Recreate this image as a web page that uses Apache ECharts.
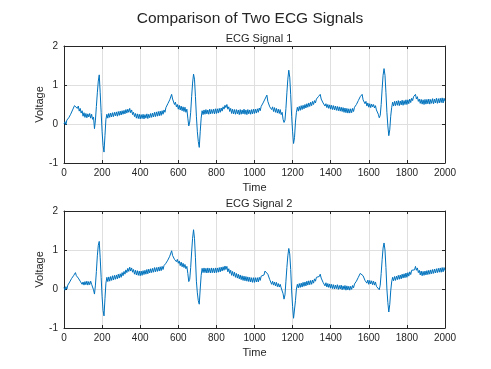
<!DOCTYPE html>
<html>
<head>
<meta charset="utf-8">
<script src="https://cdn.jsdelivr.net/npm/echarts@6/dist/echarts.min.js"></script>
<style>html,body{margin:0;padding:0;background:#fff}#c{width:491px;height:369px}</style>
</head>
<body>
<div id="c"></div>
<script>
// sample index (every 5th sample)
const time = [];
for (let t = 0; t <= 2000; t += 5) time.push(t);

const ecg1 = [
 0.00,0.06,-0.02,0.10,0.05,0.16,0.14,0.25,0.22,0.36,0.34,0.47,0.42,0.52,0.40,0.46,0.33,0.40,0.28,0.34,
 0.20,0.29,0.17,0.27,0.16,0.26,0.18,0.27,0.15,0.25,0.12,0.18,-0.12,0.10,0.45,0.80,1.10,1.26,0.80,0.30,
 -0.20,-0.55,-0.72,-0.30,0.12,0.25,0.15,0.27,0.17,0.28,0.18,0.29,0.19,0.30,0.21,0.31,0.20,0.32,0.22,0.33,
 0.23,0.34,0.25,0.35,0.26,0.37,0.28,0.38,0.30,0.40,0.29,0.36,0.24,0.30,0.19,0.27,0.15,0.26,0.14,0.25,
 0.13,0.24,0.14,0.25,0.13,0.24,0.15,0.26,0.14,0.25,0.16,0.27,0.17,0.28,0.18,0.30,0.19,0.31,0.20,0.32,
 0.21,0.33,0.22,0.34,0.25,0.36,0.30,0.42,0.38,0.52,0.50,0.62,0.60,0.76,0.64,0.62,0.50,0.56,0.44,0.50,
 0.38,0.48,0.36,0.46,0.34,0.44,0.32,0.43,0.30,0.38,0.15,-0.05,0.05,0.30,0.70,1.05,1.28,1.15,0.70,0.20,
 -0.20,-0.45,-0.60,-0.20,0.15,0.34,0.24,0.36,0.25,0.37,0.26,0.36,0.25,0.38,0.26,0.37,0.27,0.38,0.26,0.39,
 0.27,0.39,0.28,0.40,0.30,0.41,0.33,0.44,0.38,0.48,0.42,0.50,0.38,0.44,0.32,0.40,0.27,0.38,0.26,0.37,
 0.25,0.37,0.26,0.36,0.24,0.37,0.25,0.36,0.26,0.38,0.25,0.36,0.24,0.37,0.26,0.36,0.25,0.37,0.26,0.38,
 0.27,0.38,0.28,0.39,0.30,0.41,0.34,0.45,0.44,0.54,0.55,0.64,0.68,0.74,0.58,0.56,0.44,0.48,0.37,0.44,
 0.32,0.42,0.30,0.40,0.28,0.38,0.27,0.37,0.24,0.30,0.12,0.04,0.10,0.40,0.80,1.15,1.38,1.20,0.75,0.20,
 -0.20,-0.50,-0.35,0.05,0.30,0.43,0.33,0.45,0.35,0.47,0.37,0.48,0.39,0.50,0.41,0.52,0.43,0.54,0.45,0.56,
 0.47,0.58,0.50,0.60,0.54,0.64,0.60,0.70,0.66,0.76,0.64,0.68,0.54,0.58,0.46,0.52,0.42,0.50,0.40,0.49,
 0.38,0.48,0.37,0.47,0.36,0.46,0.35,0.45,0.34,0.44,0.33,0.43,0.32,0.42,0.30,0.41,0.29,0.40,0.28,0.39,
 0.28,0.39,0.29,0.40,0.32,0.43,0.38,0.50,0.50,0.60,0.60,0.70,0.68,0.76,0.62,0.64,0.52,0.58,0.46,0.54,
 0.43,0.52,0.42,0.51,0.44,0.50,0.41,0.47,0.36,0.40,0.25,0.16,0.22,0.50,0.90,1.25,1.42,1.25,0.80,0.30,
 -0.05,-0.30,-0.15,0.20,0.42,0.56,0.46,0.58,0.47,0.59,0.48,0.60,0.47,0.59,0.49,0.61,0.48,0.60,0.50,0.62,
 0.50,0.62,0.52,0.64,0.55,0.66,0.60,0.70,0.66,0.76,0.64,0.70,0.58,0.64,0.53,0.63,0.51,0.62,0.50,0.63,
 0.51,0.63,0.52,0.64,0.51,0.63,0.53,0.65,0.52,0.64,0.54,0.66,0.53,0.65,0.54,0.66,0.55,0.67,0.54,0.66,
 0.58
];

const ecg2 = [
 0.04,-0.03,0.06,0.00,0.10,0.08,0.18,0.16,0.27,0.25,0.34,0.32,0.42,0.34,0.38,0.28,0.30,0.20,0.22,0.12,
 0.18,0.10,0.19,0.11,0.20,0.10,0.19,0.11,0.20,0.12,0.15,-0.02,-0.13,0.10,0.45,0.85,1.12,1.22,0.80,0.30,
 -0.20,-0.55,-0.69,-0.25,0.15,0.30,0.19,0.31,0.20,0.32,0.22,0.34,0.23,0.35,0.25,0.36,0.26,0.38,0.28,0.39,
 0.30,0.42,0.34,0.45,0.38,0.49,0.42,0.53,0.45,0.56,0.46,0.54,0.43,0.50,0.38,0.48,0.36,0.47,0.35,0.46,
 0.34,0.46,0.35,0.47,0.37,0.48,0.38,0.50,0.39,0.51,0.41,0.52,0.42,0.53,0.43,0.55,0.44,0.55,0.45,0.56,
 0.46,0.57,0.47,0.58,0.50,0.60,0.55,0.66,0.62,0.74,0.72,0.84,0.82,0.98,0.86,0.88,0.76,0.80,0.70,0.76,
 0.66,0.72,0.60,0.69,0.57,0.66,0.55,0.63,0.52,0.58,0.40,0.19,0.25,0.55,0.95,1.30,1.52,1.30,0.80,0.20,
 -0.10,-0.30,-0.39,0.00,0.35,0.53,0.42,0.54,0.42,0.53,0.41,0.54,0.42,0.53,0.41,0.54,0.42,0.53,0.41,0.54,
 0.42,0.54,0.43,0.55,0.44,0.56,0.46,0.57,0.48,0.59,0.50,0.58,0.44,0.52,0.40,0.48,0.35,0.45,0.33,0.43,
 0.30,0.40,0.28,0.38,0.26,0.36,0.24,0.34,0.22,0.33,0.21,0.32,0.20,0.31,0.19,0.30,0.18,0.29,0.17,0.29,
 0.17,0.29,0.18,0.29,0.18,0.30,0.22,0.33,0.28,0.38,0.36,0.46,0.44,0.50,0.38,0.36,0.24,0.25,0.12,0.20,
 0.10,0.18,0.08,0.17,0.06,0.14,0.05,0.12,0.03,0.05,-0.12,-0.26,-0.15,0.20,0.55,0.85,1.04,0.90,0.50,-0.05,
 -0.45,-0.75,-0.80,-0.30,0.00,0.12,0.03,0.14,0.04,0.15,0.05,0.17,0.07,0.18,0.08,0.20,0.10,0.21,0.11,0.22,
 0.12,0.23,0.15,0.26,0.20,0.30,0.26,0.35,0.32,0.38,0.28,0.30,0.17,0.20,0.08,0.16,0.05,0.14,0.04,0.13,
 0.02,0.12,0.01,0.11,0.00,0.10,0.01,0.11,-0.01,0.09,0.00,0.10,-0.02,0.08,-0.01,0.09,-0.03,0.08,-0.02,0.07,
 -0.03,0.07,-0.01,0.09,0.03,0.13,0.10,0.20,0.22,0.30,0.32,0.40,0.40,0.45,0.34,0.36,0.22,0.26,0.15,0.23,
 0.12,0.22,0.13,0.21,0.11,0.20,0.10,0.18,0.07,0.12,0.02,-0.02,0.10,0.40,0.75,1.05,1.18,1.00,0.55,0.00,
 -0.35,-0.59,-0.40,-0.05,0.18,0.30,0.21,0.32,0.22,0.33,0.24,0.35,0.25,0.36,0.26,0.38,0.28,0.39,0.29,0.41,
 0.30,0.42,0.33,0.44,0.37,0.48,0.43,0.53,0.49,0.58,0.48,0.54,0.42,0.48,0.36,0.46,0.34,0.45,0.35,0.46,
 0.36,0.47,0.37,0.48,0.38,0.49,0.39,0.50,0.40,0.51,0.41,0.52,0.42,0.53,0.43,0.54,0.43,0.55,0.44,0.55,
 0.47
];

const xTicks = [0,200,400,600,800,1000,1200,1400,1600,1800,2000];
const yTicks = [-1,0,1,2];

const txt = '#262626';
const font = 'Liberation Sans, Arial, Helvetica, sans-serif';

function pairs(v){ return time.map((t,i)=>[t, v[i]]); }

function xAx(grid, pos, showLabel){
  return {
    type:'value', gridIndex:grid, position:pos,
    min:xTicks[0], max:xTicks[xTicks.length-1], interval:xTicks[1]-xTicks[0],
    name: showLabel ? 'Time' : '', nameLocation:'middle', nameGap:19,
    nameTextStyle:{color:txt, fontSize:11, fontFamily:font},
    axisLine:{show:true, onZero:false, lineStyle:{color:txt, width:1}},
    axisTick:{show:true, inside:true, length:3, lineStyle:{color:txt}},
    axisLabel:{show:showLabel, color:txt, fontSize:10, fontFamily:font, margin:5,
      formatter:(v)=>String(v)},
    splitLine:{show:showLabel, lineStyle:{color:'#dfdfdf', width:1}}
  };
}
function yAx(grid, pos, showLabel){
  return {
    type:'value', gridIndex:grid, position:pos,
    min:yTicks[0], max:yTicks[yTicks.length-1], interval:yTicks[1]-yTicks[0],
    name: showLabel ? 'Voltage' : '', nameLocation:'middle', nameGap:19,
    nameMoveOverlap:false,
    nameTextStyle:{color:txt, fontSize:11, fontFamily:font},
    axisLine:{show:true, onZero:false, lineStyle:{color:txt, width:1}},
    axisTick:{show:true, inside:true, length:3, lineStyle:{color:txt}},
    axisLabel:{show:showLabel, color:txt, fontSize:10, fontFamily:font, margin:6,
      formatter:(v)=>String(v)},
    splitLine:{show:showLabel, lineStyle:{color:'#dfdfdf', width:1}}
  };
}

const chart = echarts.init(document.getElementById('c'), null, {renderer:'canvas'});
chart.setOption({
  animation:false,
  backgroundColor:'#fff',
  title:[
    {text:'Comparison of Two ECG Signals', left:245, top:6, textAlign:'center',
     textStyle:{color:txt, fontSize:15.5, fontWeight:'normal', fontFamily:font}},
    {text:'ECG Signal 1', left:254, top:28, textAlign:'center',
     textStyle:{color:txt, fontSize:11, fontWeight:'normal', fontFamily:font}},
    {text:'ECG Signal 2', left:254, top:193, textAlign:'center',
     textStyle:{color:txt, fontSize:11, fontWeight:'normal', fontFamily:font}}
  ],
  grid:[
    {left:64, right:46, top:46, height:117},
    {left:64, right:46, top:211, height:117}
  ],
  xAxis:[ xAx(0,'bottom',true), xAx(0,'top',false), xAx(1,'bottom',true), xAx(1,'top',false) ],
  yAxis:[ yAx(0,'left',true), yAx(0,'right',false), yAx(1,'left',true), yAx(1,'right',false) ],
  series:[
    {type:'line', xAxisIndex:0, yAxisIndex:0, data:pairs(ecg1), showSymbol:false,
     lineStyle:{color:'#0072BD', width:1}, itemStyle:{color:'#0072BD'}},
    {type:'line', xAxisIndex:2, yAxisIndex:2, data:pairs(ecg2), showSymbol:false,
     lineStyle:{color:'#0072BD', width:1}, itemStyle:{color:'#0072BD'}}
  ]
});
</script>
</body>
</html>
